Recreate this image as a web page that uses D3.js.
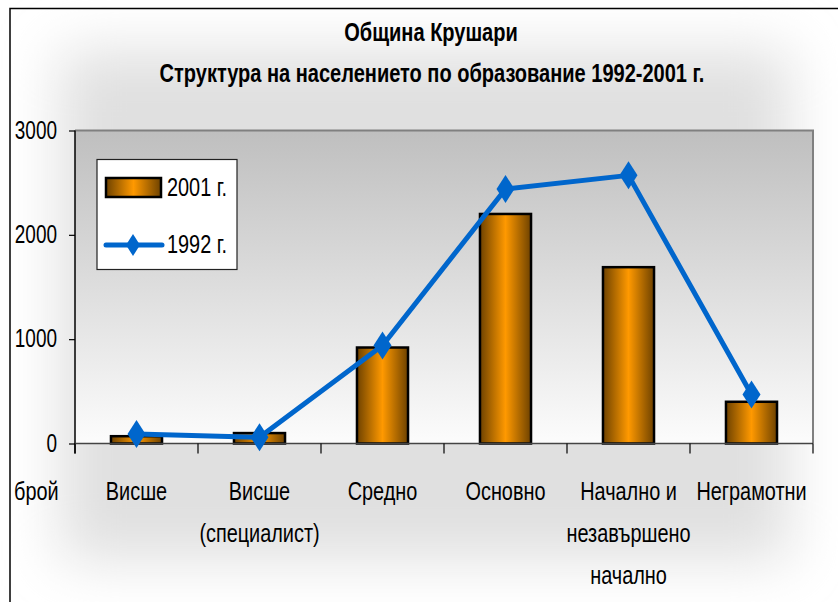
<!DOCTYPE html>
<html><head><meta charset="utf-8">
<script src="https://cdn.jsdelivr.net/npm/d3@7"></script>
<style>html,body{margin:0;padding:0;background:#fff;}svg{display:block;}</style>
</head><body>
<svg id="chart" width="838" height="602"></svg>
<script>
const titleLines = ["Община Крушари", "Структура на населението по образование 1992-2001 г."];
const categories = ["Висше", "Висше\n(специалист)", "Средно", "Основно", "Начално и\nнезавършено\nначално", "Неграмотни"];
const values2001 = [70, 100, 920, 2200, 1690, 400];
const values1992 = [90, 60, 940, 2440, 2570, 470];
const yTicks = [0, 1000, 2000, 3000];
const seriesNames = ["2001 г.", "1992 г."];
const yUnit = "брой";

const W = 838, H = 602;
const FONT = "'Liberation Sans', Arial, sans-serif";
const FS = 26, SX = 0.765, SXD = 0.73;
const svg = d3.select("#chart");
const defs = svg.append("defs");

const bg = defs.append("filter").attr("id","soft").attr("x","-30%").attr("y","-30%").attr("width","160%").attr("height","160%");
bg.append("feGaussianBlur").attr("stdDeviation", 28);
const pg = defs.append("linearGradient").attr("id","plotGrad").attr("x1",0).attr("y1",0).attr("x2",0).attr("y2",1);
pg.append("stop").attr("offset","0%").attr("stop-color","#bfbfbf");
pg.append("stop").attr("offset","100%").attr("stop-color","#fcfcfc");
const bgGrad = defs.append("linearGradient").attr("id","barGrad").attr("x1",0).attr("y1",0).attr("x2",1).attr("y2",0);
bgGrad.append("stop").attr("offset","0%").attr("stop-color","#6e4200");
bgGrad.append("stop").attr("offset","50%").attr("stop-color","#ff9900");
bgGrad.append("stop").attr("offset","100%").attr("stop-color","#6e4200");

function txt(parent, x, y, s, anchor, weight, sx) {
  return parent.append("text")
    .attr("transform", `translate(${x},${y}) scale(${sx || SX},1)`)
    .attr("text-anchor", anchor || "start")
    .attr("font-family", FONT).attr("font-size", FS)
    .attr("font-weight", weight || "normal").attr("fill", "#000")
    .text(s);
}

svg.append("rect").attr("width", W).attr("height", H).attr("fill", "#fff");
svg.append("rect").attr("x", 60).attr("y", 50).attr("width", 730).attr("height", 510)
  .attr("fill", "#e0e0e0").attr("filter", "url(#soft)");

svg.append("path").attr("d", "M10,602 V8.5 H838").attr("fill","none").attr("stroke","#000").attr("stroke-width",1.5);

txt(svg, 431, 41, titleLines[0], "middle", "bold", 0.77);
txt(svg, 432, 82, titleLines[1], "middle", "bold", 0.77);

const x = d3.scaleBand().domain(categories).range([75, 813]).paddingInner(0.585).paddingOuter(0.2925);
const y = d3.scaleLinear().domain([0, 3000]).range([443.5, 130.5]);
const [x0, x1] = x.range();

svg.append("rect").attr("x", x0).attr("y", y(3000)).attr("width", x1 - x0).attr("height", y(0) - y(3000))
  .attr("fill", "url(#plotGrad)");
svg.append("path").attr("d", `M${x0},${y(3000)} H${x1} V${y(0)}`).attr("fill","none").attr("stroke","#808080").attr("stroke-width",2);

svg.append("g").selectAll("rect").data(values2001).join("rect")
  .attr("x", (d,i) => x(categories[i])).attr("y", d => y(d))
  .attr("width", x.bandwidth()).attr("height", d => y(0) - y(d))
  .attr("fill", "url(#barGrad)").attr("stroke", "#000").attr("stroke-width", 2.5);

const yAxis = svg.append("g").attr("transform", `translate(${x0},0)`)
  .call(d3.axisLeft(y).tickValues(yTicks).tickSize(6).tickFormat(""));
yAxis.select(".domain").attr("d", `M0,${y(3000)}V${y(0) + 10}`).attr("stroke","#000").attr("stroke-width",1.5);
yAxis.selectAll(".tick line").attr("stroke","#000").attr("stroke-width",1.2);
yTicks.forEach(t => txt(svg, 57, y(t) + 8, String(t), "end", "normal", SXD));

svg.append("line").attr("x1", x0).attr("x2", x1).attr("y1", y(0)).attr("y2", y(0))
  .attr("stroke", "#444").attr("stroke-width", 1.5);
const bounds = d3.range(categories.length + 1).map(i => x0 + i * x.step());
svg.append("g").selectAll("line").data(bounds).join("line")
  .attr("x1", d => d).attr("x2", d => d).attr("y1", y(0)).attr("y2", y(0) + 10)
  .attr("stroke", "#000").attr("stroke-width", 1.2);

categories.forEach(c => {
  const cx = x(c) + x.bandwidth() / 2;
  c.split("\n").forEach((line, j) => txt(svg, cx, 500 + j * 42, line, "middle"));
});
txt(svg, 14, 500, yUnit, "start");

const cxOf = i => x(categories[i]) + x.bandwidth() / 2;
svg.append("path").datum(values1992)
  .attr("d", d3.line().x((d,i) => cxOf(i)).y(d => y(d)))
  .attr("fill","none").attr("stroke","#0066cc").attr("stroke-width",5).attr("stroke-linejoin","round");
const diamond = (hw, hh) => `M0,${-hh} L${hw},0 L0,${hh} L${-hw},0 Z`;
svg.append("g").selectAll("path").data(values1992).join("path")
  .attr("transform", (d,i) => `translate(${cxOf(i)},${y(d)})`)
  .attr("d", diamond(9, 14)).attr("fill", "#0066cc");

const lg = svg.append("g");
lg.append("rect").attr("x", 97).attr("y", 159.5).attr("width", 140).attr("height", 110)
  .attr("fill", "#fff").attr("stroke", "#222").attr("stroke-width", 1.2);
lg.append("rect").attr("x", 106).attr("y", 178).attr("width", 55).attr("height", 19)
  .attr("fill", "url(#barGrad)").attr("stroke", "#000").attr("stroke-width", 2.5);
txt(lg, 167, 196, seriesNames[0], "start");
lg.append("line").attr("x1", 106).attr("x2", 162).attr("y1", 245).attr("y2", 245)
  .attr("stroke", "#0066cc").attr("stroke-width", 5).attr("stroke-linecap", "round");
lg.append("path").attr("transform", "translate(133,245)").attr("d", diamond(7, 11)).attr("fill", "#0066cc");
txt(lg, 167, 253, seriesNames[1], "start");
</script>
</body></html>
